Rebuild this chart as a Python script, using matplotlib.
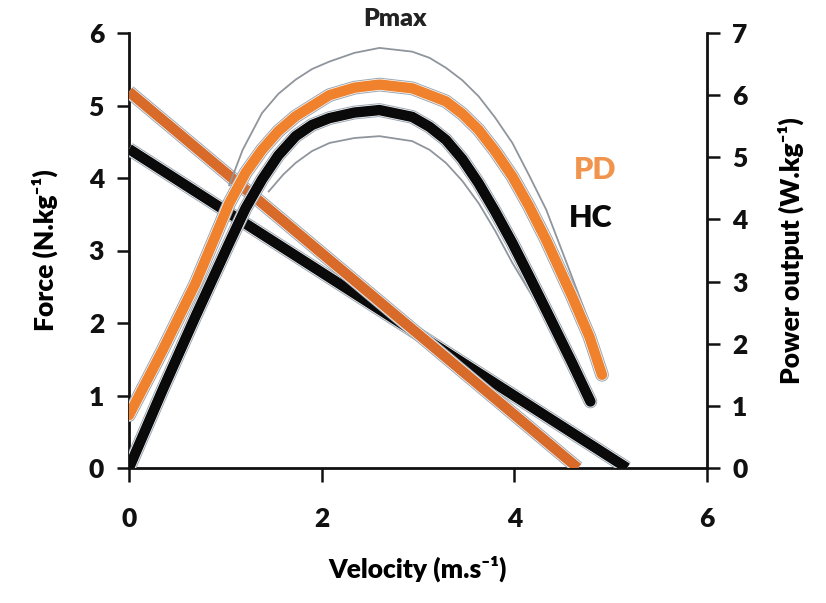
import matplotlib
matplotlib.use("Agg")
import matplotlib.pyplot as plt
import matplotlib.patheffects as pe

plt.rcParams['font.family'] = ['Lato', 'DejaVu Sans']

# ---- data ----
# Force-velocity lines (left axis)
pd_force_v = [0.0, 4.66]
pd_force_f = [5.19, 0.0]
hc_force_v = [0.0, 5.17]
hc_force_f = [4.40, 0.0]

# Power-velocity curves (right axis)
pd_power_v = [0.0, 0.35, 0.69, 1.04, 1.21, 1.38, 1.55, 1.73, 2.08, 2.34, 2.60, 2.94, 3.29, 3.46, 3.63, 3.80, 3.98, 4.15, 4.33, 4.60, 4.78, 4.91]
pd_power_p = [0.85, 1.90, 2.97, 4.26, 4.75, 5.12, 5.42, 5.66, 6.00, 6.12, 6.17, 6.11, 5.90, 5.70, 5.44, 5.10, 4.69, 4.22, 3.67, 2.76, 2.11, 1.50]

hc_power_v = [0.0, 0.35, 0.69, 1.04, 1.21, 1.38, 1.55, 1.73, 1.90, 2.08, 2.34, 2.60, 2.94, 3.12, 3.29, 3.46, 3.63, 3.80, 3.98, 4.15, 4.33, 4.60, 4.79]
hc_power_p = [0.0, 1.26, 2.44, 3.62, 4.18, 4.64, 5.03, 5.34, 5.52, 5.63, 5.72, 5.76, 5.65, 5.49, 5.28, 4.97, 4.58, 4.13, 3.62, 3.10, 2.54, 1.69, 1.07]

upper_v = [1.04, 1.18, 1.38, 1.55, 1.73, 1.90, 2.08, 2.34, 2.60, 2.94, 3.12, 3.29, 3.46, 3.63, 3.80, 3.98, 4.15, 4.33, 4.57, 4.78, 4.86]
upper_p = [4.55, 5.12, 5.71, 6.02, 6.25, 6.42, 6.54, 6.68, 6.76, 6.70, 6.60, 6.44, 6.24, 5.98, 5.64, 5.23, 4.72, 4.16, 3.19, 2.33, 1.95]

lower_v = [1.45, 1.60, 1.73, 1.90, 2.08, 2.34, 2.60, 2.94, 3.12, 3.29, 3.46, 3.63, 3.80, 3.98, 4.15, 4.33]
lower_p = [4.45, 4.72, 4.91, 5.10, 5.23, 5.31, 5.34, 5.26, 5.12, 4.91, 4.62, 4.26, 3.82, 3.30, 2.86, 2.40]

x_ticks = [0, 2, 4, 6]
force_ticks = [0, 1, 2, 3, 4, 5, 6]
power_ticks = [0, 1, 2, 3, 4, 5, 6, 7]

ORANGE = '#F0822E'
ORANGE_DARK = '#D86A2A'
BLACK = '#0a0a0a'
EDGE = '#9aa6b2'
W = 'heavy'

fig = plt.figure(figsize=(8.26, 6.03), dpi=100)
ax = fig.add_axes([129/826, 1-468/603, (707-129)/826, (468-33)/603])
ax2 = ax.twinx()

def fx(lw):
    return [pe.Stroke(linewidth=lw+2.4, foreground=EDGE),
            pe.Stroke(linewidth=lw+1.0, foreground='white'),
            pe.Normal()]

# force lines
ax.plot(hc_force_v, hc_force_f, color=BLACK, lw=7.5, solid_capstyle='butt',
        path_effects=fx(7.5), zorder=3)
ax.plot(pd_force_v, pd_force_f, color=ORANGE_DARK, lw=7.5, solid_capstyle='butt',
        path_effects=fx(7.5), zorder=4)

# power curves
ax2.plot(upper_v, upper_p, color='#8f959c', lw=1.3, zorder=2, solid_joinstyle='round')
ax2.plot(lower_v, lower_p, color='#8f959c', lw=1.3, zorder=2, solid_joinstyle='round')
ax2.plot(hc_power_v, hc_power_p, color=BLACK, lw=7.5, solid_capstyle='round',
         solid_joinstyle='round', path_effects=fx(7.5), zorder=3)
ax2.plot(pd_power_v, pd_power_p, color=ORANGE, lw=7.5, solid_capstyle='round',
         solid_joinstyle='round', path_effects=fx(7.5), zorder=4)

ax.set_xlim(0, 6)
ax.set_ylim(0, 6)
ax2.set_ylim(0, 7)
ax.set_xticks(x_ticks)
ax.set_yticks(force_ticks)
ax2.set_yticks(power_ticks)

for a in (ax, ax2):
    a.spines['top'].set_visible(False)
    for s in ('left', 'right', 'bottom'):
        a.spines[s].set_linewidth(2.0)
        a.spines[s].set_color('#111111')
    a.tick_params(width=1.8, length=9, labelsize=19, colors='#111111', pad=9)
ax.spines['right'].set_visible(False)
ax2.spines['left'].set_visible(False)
ax2.spines['bottom'].set_visible(False)
ax.tick_params(axis='x', length=10, pad=18)

for lab in ax.get_xticklabels() + ax.get_yticklabels() + ax2.get_yticklabels():
    lab.set_fontweight(W)

ax.set_xlabel('Velocity (m.s\u207b\u00b9)', fontsize=19, fontweight=W, labelpad=18)
ax.set_ylabel('Force (N.kg\u207b\u00b9)', fontsize=19, fontweight=W, labelpad=22)
ax2.set_ylabel('Power output (W.kg\u207b\u00b9)', fontsize=19, fontweight=W, labelpad=22)

ax.text(2.76, 6.2, 'Pmax', fontsize=18, fontweight=W, ha='center', va='center',
        color='#222222', clip_on=False)
ax.text(4.84, 4.11, 'PD', fontsize=22, fontweight=W, ha='center', va='center',
        color='#F0944E')
ax.text(4.79, 3.45, 'HC', fontsize=22, fontweight=W, ha='center', va='center',
        color=BLACK)

fig.savefig('out.png', dpi=100)
